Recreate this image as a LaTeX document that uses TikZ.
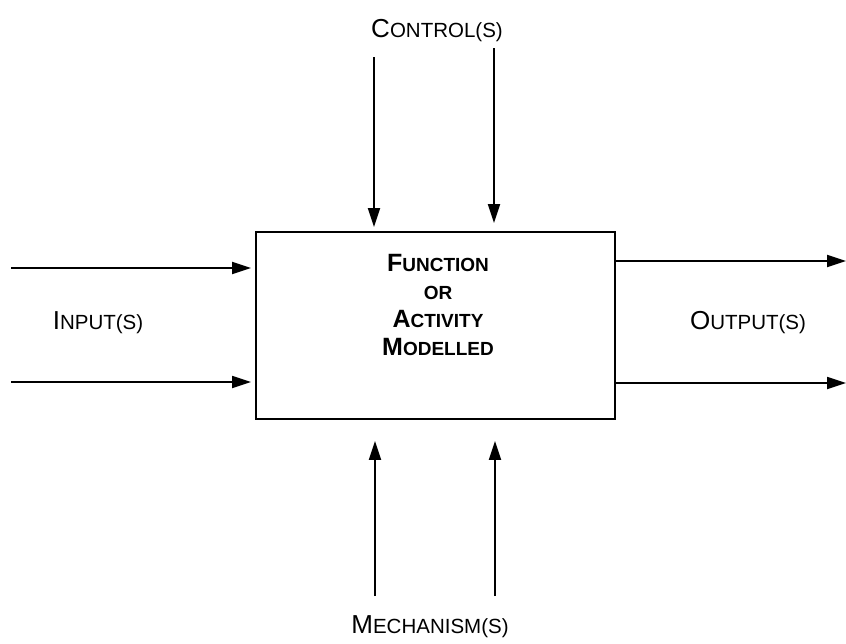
\documentclass[tikz,border=0pt]{standalone}
\usepackage{fontspec}
\setmainfont{Liberation Sans}
\usetikzlibrary{arrows.meta}

% fake small caps: big first letter, smaller capitals after it
\newcommand{\bigsc}[2]{{\fontsize{26}{26}\selectfont #1}{\fontsize{20.5}{26}\selectfont #2}}
\newcommand{\boldsc}[2]{{\fontsize{25}{28}\selectfont\bfseries #1}{\fontsize{19}{28}\selectfont\bfseries #2}}

\begin{document}
\begin{tikzpicture}[x=1pt,y=-1pt,
    flow/.style={line width=1.8pt,-{Triangle[length=19pt,width=12pt]}},
    lbl/.style={inner sep=0pt}]
	\useasboundingbox (0,0) rectangle (846,643);
	% the function box
	\node[draw,line width=1.8pt,minimum width=359pt,minimum height=187pt,inner sep=0pt] (fn) at (435.5,325.5) {};
	\node[lbl,align=center,font=\fontsize{19}{28}\selectfont] (fntext) at (438,305) {\boldsc{F}{UNCTION}\\ \boldsc{}{OR}\\ \boldsc{A}{CTIVITY}\\ \boldsc{M}{ODELLED}};
	% free ends
	\coordinate (in1) at (11,268);
	\coordinate (in2) at (11,382);
	\coordinate (out1) at (846,261);
	\coordinate (out2) at (846,383);
	\coordinate (ctl1) at (374,57);
	\coordinate (ctl2) at (494,48);
	\coordinate (mec1) at (375,596);
	\coordinate (mec2) at (495,596);
	% inputs and outputs
	\draw[flow,shorten >=4pt] (in1) -- (in1 -| fn.west);
	\draw[flow,shorten >=4pt] (in2) -- (in2 -| fn.west);
	\draw[flow] (out1 -| fn.east) -- (out1);
	\draw[flow] (out2 -| fn.east) -- (out2);
	% controls and mechanisms
	\draw[flow,shorten >=4pt] (ctl1) -- (ctl1 |- fn.north);
	\draw[flow,shorten >=8pt] (ctl2) -- (ctl2 |- fn.north);
	\draw[flow,shorten >=21pt] (mec1) -- (mec1 |- fn.south);
	\draw[flow,shorten >=21pt] (mec2) -- (mec2 |- fn.south);
	% labels
	\node[lbl] (ctllbl) at (437,31) {\bigsc{C}{ONTROL(S)}};
	\node[lbl] (inlbl) at (98,323) {\bigsc{I}{NPUT(S)}};
	\node[lbl] (outlbl) at (748,323) {\bigsc{O}{UTPUT(S)}};
	\node[lbl] (meclbl) at (430,627) {\bigsc{M}{ECHANISM(S)}};
\end{tikzpicture}
\end{document}
